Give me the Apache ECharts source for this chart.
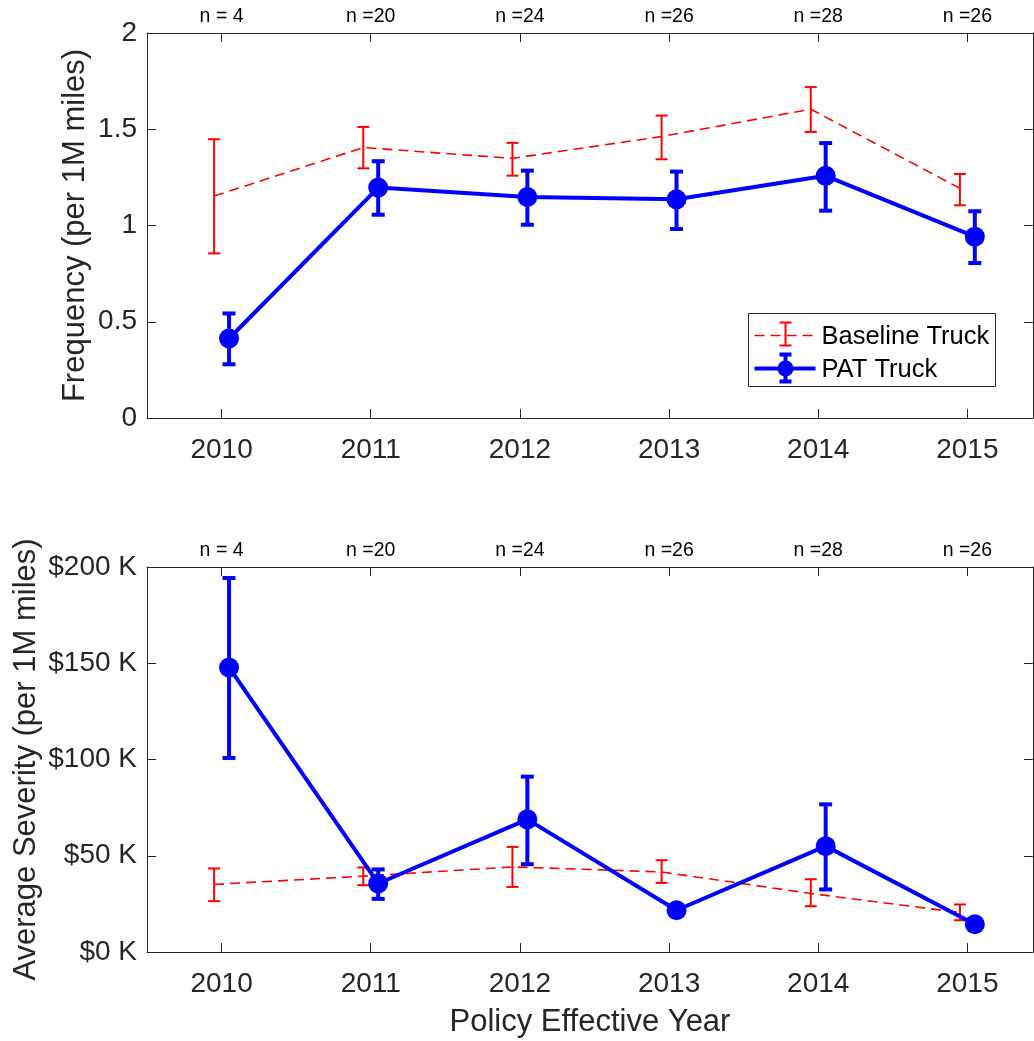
<!DOCTYPE html>
<html>
<head>
<meta charset="utf-8">
<script src="https://cdn.jsdelivr.net/npm/echarts@6/dist/echarts.min.js"></script>
<style>
  html, body { margin: 0; padding: 0; background: #fff; }
  #chart { width: 1034px; height: 1041px; }
</style>
</head>
<body>
<div id="chart"></div>
<script>
// Policy effective years and the number of policies in each cohort
const years = [2010, 2011, 2012, 2013, 2014, 2015];
const nLabels = ['n = 4', 'n =20', 'n =24', 'n =26', 'n =28', 'n =26'];

// Claim frequency (per 1M miles): mean and error-bar bounds
const baseFreq   = [1.153, 1.405, 1.349, 1.462, 1.604, 1.193];
const baseFreqLo = [0.855, 1.297, 1.259, 1.344, 1.486, 1.105];
const baseFreqHi = [1.448, 1.512, 1.429, 1.571, 1.719, 1.268];
const patFreq    = [0.413, 1.197, 1.148, 1.136, 1.258, 0.942];
const patFreqLo  = [0.279, 1.056, 1.004, 0.982, 1.077, 0.805];
const patFreqHi  = [0.543, 1.334, 1.285, 1.280, 1.428, 1.074];

// Average severity in $K: mean and error-bar bounds
const baseSev    = [35.1, 39.4, 44.2, 41.6, 30.4, 20.5];
const baseSevLo  = [26.4, 34.7, 33.8, 35.9, 23.8, 16.5];
const baseSevHi  = [43.4, 43.9, 54.6, 47.7, 37.8, 24.7];
const patSev     = [147.8, 35.6, 68.9, 21.7, 55.0, 14.4];
const patSevLo   = [100.8, 27.6, 45.6, 19.6, 32.5, 12.6];
const patSevHi   = [194.3, 42.9, 91.1, 23.6, 76.7, 16.4];

// Each group is nudged sideways so the error bars don't overlap
const BASE_SHIFT = -0.05;
const PAT_SHIFT = 0.05;

const AXIS_COLOR = '#262626';
const RED = '#ff0000';
const BLUE = '#0000ff';
const FONT = 'Liberation Sans, Arial, Helvetica, sans-serif';
const TICK_FONT = 28;
const NAME_FONT = 31;

const pts = (vals, shift) => vals.map((v, i) => [years[i] + shift, v]);
const bars = (lo, hi, shift) => lo.map((l, i) => [years[i] + shift, l, hi[i]]);

function errorBarRender(capHalf, width, color) {
  return function (params, api) {
    const x = api.value(0);
    const pLo = api.coord([x, api.value(1)]);
    const pHi = api.coord([x, api.value(2)]);
    const style = { stroke: color, lineWidth: width, fill: null };
    return {
      type: 'group',
      children: [
        { type: 'line', shape: { x1: pLo[0], y1: pLo[1], x2: pHi[0], y2: pHi[1] }, style },
        { type: 'line', shape: { x1: pLo[0] - capHalf, y1: pLo[1], x2: pLo[0] + capHalf, y2: pLo[1] }, style },
        { type: 'line', shape: { x1: pHi[0] - capHalf, y1: pHi[1], x2: pHi[0] + capHalf, y2: pHi[1] }, style }
      ]
    };
  };
}

const axisLine = { show: true, onZero: false, lineStyle: { color: AXIS_COLOR, width: 1 } };
const tickIn = { show: true, inside: true, length: 9, lineStyle: { color: AXIS_COLOR, width: 1 } };

function xAxes(gridIndex, withName) {
  const bottom = {
    type: 'value', gridIndex, position: 'bottom', min: 2009.5, max: 2015.44,
    axisLine, axisTick: Object.assign({ customValues: years }, tickIn),
    axisLabel: {
      customValues: years, margin: 18, color: AXIS_COLOR, fontSize: TICK_FONT, fontFamily: FONT,
      formatter: v => String(v)
    },
    splitLine: { show: false }
  };
  if (withName) {
    Object.assign(bottom, {
      name: 'Policy Effective Year', nameLocation: 'middle', nameGap: 55,
      nameTextStyle: { color: AXIS_COLOR, fontSize: NAME_FONT, fontFamily: FONT }
    });
  }
  const top = {
    type: 'value', gridIndex, position: 'top', min: 2009.5, max: 2015.44,
    axisLine, axisTick: Object.assign({ customValues: years }, tickIn),
    axisLabel: {
      customValues: years, margin: 6, color: '#000', fontSize: 19.5, fontFamily: FONT,
      formatter: v => nLabels[years.indexOf(Math.round(v))] || ''
    },
    splitLine: { show: false }
  };
  return [bottom, top];
}

function yAxes(gridIndex, max, interval, name, nameGap, fmt) {
  return [
    {
      type: 'value', gridIndex, position: 'left', min: 0, max, interval,
      name, nameLocation: 'middle', nameGap, nameRotate: 90, nameMoveOverlap: false,
      nameTextStyle: { color: AXIS_COLOR, fontSize: NAME_FONT, fontFamily: FONT },
      axisLine, axisTick: tickIn,
      axisLabel: { margin: 10, color: AXIS_COLOR, fontSize: TICK_FONT, fontFamily: FONT, formatter: fmt },
      splitLine: { show: false }
    },
    {
      type: 'value', gridIndex, position: 'right', min: 0, max, interval,
      axisLine, axisTick: tickIn, axisLabel: { show: false }, splitLine: { show: false }
    }
  ];
}

function panelSeries(xIdx, yIdx, bMean, bLo, bHi, pMean, pLo, pHi) {
  return [
    {
      type: 'line', xAxisIndex: xIdx, yAxisIndex: yIdx, data: pts(bMean, BASE_SHIFT),
      symbol: 'none', lineStyle: { color: RED, width: 1.6, type: [10, 6] }, z: 2
    },
    {
      type: 'custom', xAxisIndex: xIdx, yAxisIndex: yIdx, data: bars(bLo, bHi, BASE_SHIFT),
      encode: { x: 0, y: [1, 2] }, renderItem: errorBarRender(6, 2, RED), z: 2
    },
    {
      type: 'custom', xAxisIndex: xIdx, yAxisIndex: yIdx, data: bars(pLo, pHi, PAT_SHIFT),
      encode: { x: 0, y: [1, 2] }, renderItem: errorBarRender(6.5, 4, BLUE), z: 3
    },
    {
      type: 'line', xAxisIndex: xIdx, yAxisIndex: yIdx, data: pts(pMean, PAT_SHIFT),
      symbol: 'circle', symbolSize: 20, showSymbol: true,
      itemStyle: { color: BLUE }, lineStyle: { color: BLUE, width: 4 }, z: 4
    }
  ];
}

// Legend for the frequency panel, with error-bar glyphs
const legendGroup = {
  type: 'group', left: 748, top: 313, z: 100,
  children: [
    { type: 'rect', shape: { x: 0, y: 0, width: 247, height: 73 },
      style: { fill: '#fff', stroke: AXIS_COLOR, lineWidth: 1 } },
    { type: 'line', shape: { x1: 6, y1: 22, x2: 67, y2: 22 },
      style: { stroke: RED, lineWidth: 1.6, lineDash: [10, 6] } },
    { type: 'line', shape: { x1: 37, y1: 9, x2: 37, y2: 32 }, style: { stroke: RED, lineWidth: 2 } },
    { type: 'line', shape: { x1: 31, y1: 9, x2: 43, y2: 9 }, style: { stroke: RED, lineWidth: 2 } },
    { type: 'line', shape: { x1: 31, y1: 32, x2: 43, y2: 32 }, style: { stroke: RED, lineWidth: 2 } },
    { type: 'text', x: 73, y: 23,
      style: { text: 'Baseline Truck', fill: '#000', fontSize: 25.5, fontFamily: FONT, verticalAlign: 'middle' } },
    { type: 'line', shape: { x1: 6, y1: 55, x2: 67, y2: 55 }, style: { stroke: BLUE, lineWidth: 4 } },
    { type: 'line', shape: { x1: 37, y1: 41, x2: 37, y2: 68 }, style: { stroke: BLUE, lineWidth: 4 } },
    { type: 'line', shape: { x1: 31, y1: 41, x2: 43, y2: 41 }, style: { stroke: BLUE, lineWidth: 4 } },
    { type: 'line', shape: { x1: 31, y1: 68, x2: 43, y2: 68 }, style: { stroke: BLUE, lineWidth: 4 } },
    { type: 'circle', shape: { cx: 37, cy: 55, r: 8 }, style: { fill: BLUE } },
    { type: 'text', x: 73, y: 56,
      style: { text: 'PAT Truck', fill: '#000', fontSize: 25.5, fontFamily: FONT, verticalAlign: 'middle' } }
  ]
};

const chart = echarts.init(document.getElementById('chart'), null, { renderer: 'canvas' });
chart.setOption({
  animation: false,
  backgroundColor: '#fff',
  grid: [
    { left: 147, top: 33, right: 1, height: 385, show: false },
    { left: 147, top: 567, right: 1, height: 385, show: false }
  ],
  xAxis: [...xAxes(0, false), ...xAxes(1, true)],
  yAxis: [
    ...yAxes(0, 2, 0.5, 'Frequency (per 1M miles)', 56, v => String(v)),
    ...yAxes(1, 200, 50, 'Average Severity (per 1M miles)', 105, v => '$' + v + ' K')
  ],
  series: [
    ...panelSeries(0, 0, baseFreq, baseFreqLo, baseFreqHi, patFreq, patFreqLo, patFreqHi),
    ...panelSeries(2, 2, baseSev, baseSevLo, baseSevHi, patSev, patSevLo, patSevHi)
  ],
  graphic: [legendGroup]
});
</script>
</body>
</html>
